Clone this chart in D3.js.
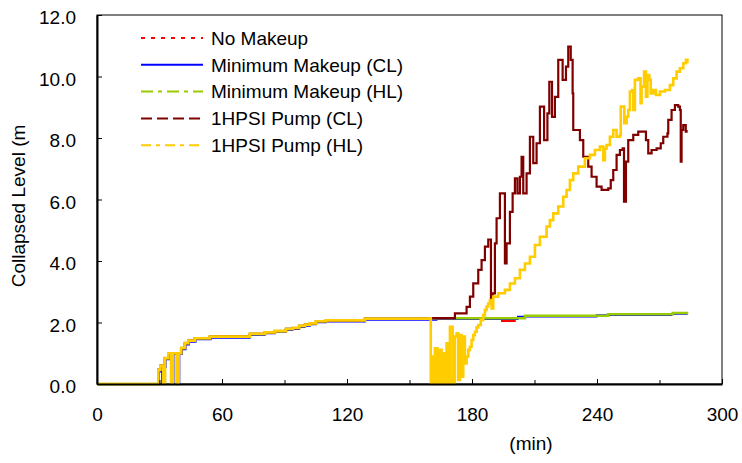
<!DOCTYPE html>
<html>
<head>
<meta charset="utf-8">
<script src="https://cdn.jsdelivr.net/npm/d3@7/dist/d3.min.js"></script>
<style>
  body { margin: 0; background: #fff; }
  text { font-family: "Liberation Sans", Arial, sans-serif; fill: #000; }
</style>
</head>
<body>
<script>
// shared start (all cases follow the same level before the pumps begin)
const earlyT = [0, 29.4, 30.4, 31.8, 32.6, 34.2, 35.6, 36.4, 38.4, 39.2, 40.4, 42.2, 43.8, 47, 54.2, 73.4, 80.6, 85.4, 90.7, 93.9, 97, 99.8, 102.2, 105.1, 109.9, 128.6];
const earlyV = [0, 0.46, 0.59, 0, 0.84, 1.0, 0, 1.0, 0, 1.0, 1.17, 1.33, 1.41, 1.49, 1.54, 1.63, 1.68, 1.72, 1.79, 1.82, 1.89, 1.93, 1.97, 2.04, 2.07, 2.12];

// minimum makeup (CL) runs slightly below the others
const minClEarlyT = [0, 29.8, 30.8, 31.2, 32.0, 33.0, 34.6, 36.0, 36.8, 38.8, 39.6, 40.8, 42.6, 44.2, 47.4, 54.6, 73.4, 80.6, 85.4, 90.7, 93.9, 97, 99.8, 102.2, 105.1, 109.9, 128.6];
const minClEarlyV = [0, 0.4, 0.55, 0, 0.55, 0.8, 0.97, 0, 0.97, 0, 0.97, 1.12, 1.28, 1.37, 1.45, 1.5, 1.59, 1.64, 1.69, 1.75, 1.78, 1.85, 1.89, 1.94, 2.0, 2.03, 2.08];

const noMakeupT = [160, 194.4, 201];
const noMakeupV = [2.13, 2.05, 2.05];

const minClT = [160, 163, 202, 239.8, 275.8, 283.5];
const minClV = [2.08, 2.11, 2.19, 2.24, 2.28, 2.28];

const minHlT = [160, 205.4, 245.3, 276.3, 283.8];
const minHlV = [2.14, 2.22, 2.27, 2.31, 2.31];

const pumpClT = [159.8, 171.8, 177.1, 177.4, 179.0, 180.6, 183.0, 184.6, 186.2, 187.8, 189.0, 189.1, 189.9, 191.0, 191.8, 193.4, 195.0, 195.8, 196.6, 198.2, 199.5, 200.6, 201.8, 203.0, 203.8, 204.6, 206.2, 207.8, 208.6, 209.4, 211.0, 212.6, 213.9, 214.6, 216.2, 217.1, 217.9, 218.4, 219.8, 221.4, 222.6, 223.5, 225.1, 226.2, 227.4, 228.3, 228.6, 230.2, 231.8, 233.4, 235.8, 237.4, 239.8, 242.2, 245.4, 246.6, 247.8, 249.4, 251.0, 252.3, 252.96, 253.9, 255.0, 257.4, 259.8, 262.2, 263.5, 264.6, 266.2, 268.6, 270.6, 271.8, 273.8, 274.2, 275.8, 277.4, 279.0, 279.8, 280.2, 280.6, 281.4, 282.6, 283.0];
const pumpClV = [2.14, 2.30, 2.30, 2.51, 2.84, 3.27, 3.71, 4.03, 4.47, 4.70, 4.70, 2.62, 2.95, 4.57, 5.39, 6.20, 6.20, 3.92, 4.57, 5.60, 6.20, 6.69, 6.20, 6.74, 7.39, 6.20, 6.85, 8.04, 8.04, 7.18, 7.83, 9.02, 9.02, 7.93, 8.80, 9.83, 9.83, 8.69, 9.34, 10.54, 10.54, 9.89, 10.32, 10.97, 10.54, 9.45, 8.26, 8.26, 7.93, 7.39, 7.07, 6.74, 6.42, 6.31, 6.36, 6.63, 6.96, 7.45, 7.61, 7.66, 5.93, 7.23, 7.93, 8.10, 8.21, 8.21, 7.93, 7.50, 7.61, 7.66, 7.83, 8.04, 8.15, 8.59, 8.91, 9.07, 9.02, 8.91, 7.23, 8.26, 8.42, 8.21, 8.26];

const pumpHlT = [159.8, 160.2, 160.6, 161.4, 162.2, 163.4, 164.3, 165.4, 166.2, 167.0, 167.8, 168.6, 169.4, 170.4, 170.7, 171.8, 172.6, 173.4, 174.2, 175.0, 175.8, 176.6, 177.4, 178.2, 179.0, 179.8, 180.6, 181.4, 182.2, 183.0, 184.2, 185.4, 186.2, 187.0, 187.8, 188.6, 189.4, 190.2, 192.6, 195.8, 198.2, 200.6, 203.0, 205.4, 207.8, 210.2, 212.6, 215.8, 217.4, 219.0, 221.4, 223.8, 225.4, 227.0, 228.6, 231.0, 232.6, 234.2, 236.6, 239.0, 241.4, 243.0, 243.8, 244.6, 246.2, 247.8, 249.4, 251.0, 251.4, 252.6, 253.1, 254.2, 255.0, 255.8, 256.9, 257.4, 258.2, 259.8, 260.9, 261.4, 262.6, 263.5, 264.2, 265.1, 265.8, 267.0, 268.3, 270.2, 272.6, 275.0, 276.6, 278.2, 279.8, 281.4, 282.7, 283.4];
const pumpHlV = [2.14, 0, 0.89, 0, 1.16, 0, 1.11, 0, 1.0, 0, 1.32, 0, 1.86, 1.86, 0, 1.54, 1.65, 0.13, 1.59, 0.24, 1.54, 0.67, 0.89, 1.11, 1.21, 1.43, 1.59, 1.70, 1.84, 1.92, 2.08, 2.24, 2.41, 2.52, 2.62, 2.73, 2.46, 2.84, 2.95, 3.06, 3.27, 3.44, 3.71, 3.92, 4.14, 4.52, 4.79, 5.12, 5.33, 5.55, 5.77, 6.09, 6.31, 6.63, 6.85, 7.07, 7.07, 7.34, 7.45, 7.61, 7.72, 7.28, 7.66, 7.77, 8.04, 8.26, 8.04, 8.10, 9.02, 9.02, 8.48, 8.69, 8.91, 9.51, 9.56, 8.91, 9.89, 9.94, 9.13, 9.67, 10.16, 9.34, 10.05, 9.89, 9.45, 9.56, 9.40, 9.51, 9.56, 9.72, 9.94, 10.16, 10.27, 10.43, 10.54, 10.43];

const xTicks = [0, 60, 120, 180, 240, 300];
const yTicks = [0, 2, 4, 6, 8, 10, 12];
const legendNames = ['No Makeup', 'Minimum Makeup (CL)', 'Minimum Makeup (HL)', '1HPSI Pump (CL)', '1HPSI Pump (HL)'];

const width = 742, height = 463;
const margin = { top: 15, right: 20, bottom: 79, left: 97 };

const svg = d3.select('body').append('svg')
    .attr('width', width)
    .attr('height', height);

const x = d3.scaleLinear().domain([0, 300]).range([margin.left, width - margin.right]);
const y = d3.scaleLinear().domain([0, 12]).range([height - margin.bottom, margin.top]);

const zip = (ts, vs) => ts.map((t, i) => ({ t, v: vs[i] }));
const early = zip(earlyT, earlyV);

const series = [
    { name: legendNames[0], color: '#ff0000', w: 2, dash: '4,6', data: early.concat(zip(noMakeupT, noMakeupV)) },
    { name: legendNames[1], color: '#0000ff', w: 1.6, dash: null, data: zip(minClEarlyT, minClEarlyV).concat(zip(minClT, minClV)) },
    { name: legendNames[2], color: '#99cc00', w: 2.5, dash: '12,5,4,5', data: early.concat(zip(minHlT, minHlV)) },
    { name: legendNames[3], color: '#800000', w: 2.2, dash: '11,5', data: early.concat(zip(pumpClT, pumpClV)) },
    { name: legendNames[4], color: '#ffcc00', w: 2.6, dash: '10,5,4,5', data: early.concat(zip(pumpHlT, pumpHlV)) }
];

const line = d3.line()
    .x(d => x(d.t))
    .y(d => y(d.v))
    .curve(d3.curveStepAfter);

// frame
svg.append('rect')
    .attr('x', x(0)).attr('y', y(12))
    .attr('width', x(300) - x(0)).attr('height', y(0) - y(12))
    .attr('fill', 'none').attr('stroke', '#000').attr('stroke-width', 1);

series.forEach(s => {
    svg.append('path')
        .datum(s.data)
        .attr('fill', 'none')
        .attr('stroke', s.color)
        .attr('stroke-width', s.w)
        .attr('d', line);
});

// axes
const xAxis = d3.axisBottom(x).tickValues(d3.range(0, 301, 30)).tickSizeInner(-5).tickSizeOuter(0).tickFormat(d => xTicks.includes(d) ? d : '');
const gx = svg.append('g').attr('transform', `translate(0,${y(0)})`).call(xAxis);
gx.select('.domain').attr('stroke-width', 2);
gx.selectAll('.tick line').attr('y2', d => xTicks.includes(d) ? -5 : -4);
gx.selectAll('.tick text').attr('y', 24).attr('font-size', 19).attr('font-family', '"Liberation Sans", Arial, sans-serif');

const yAxis = d3.axisLeft(y).tickValues(yTicks).tickSizeInner(-5).tickSizeOuter(0).tickFormat(d3.format('.1f'));
const gy = svg.append('g').attr('transform', `translate(${x(0)},0)`).call(yAxis);
gy.select('.domain').attr('stroke-width', 2);
gy.selectAll('.tick text').attr('x', -21).attr('dy', '0.45em').attr('font-size', 19).attr('font-family', '"Liberation Sans", Arial, sans-serif');

svg.append('text')
    .attr('x', 531).attr('y', 450)
    .attr('text-anchor', 'middle')
    .attr('font-size', 19)
    .text('(min)');

svg.append('text')
    .attr('transform', 'translate(25,206) rotate(-90)')
    .attr('text-anchor', 'middle')
    .attr('font-size', 19)
    .text('Collapsed Level (m');

// legend
const legend = svg.append('g').attr('transform', 'translate(141,38)');
series.forEach((s, i) => {
    const row = legend.append('g').attr('transform', `translate(0,${i * 26.8})`);
    row.append('line')
        .attr('x1', 0).attr('x2', 62)
        .attr('stroke', s.color)
        .attr('stroke-width', 2)
        .attr('stroke-dasharray', s.dash);
    row.append('text')
        .attr('x', 70).attr('dy', '0.36em')
        .attr('font-size', 19)
        .text(s.name);
});
</script>
</body>
</html>
